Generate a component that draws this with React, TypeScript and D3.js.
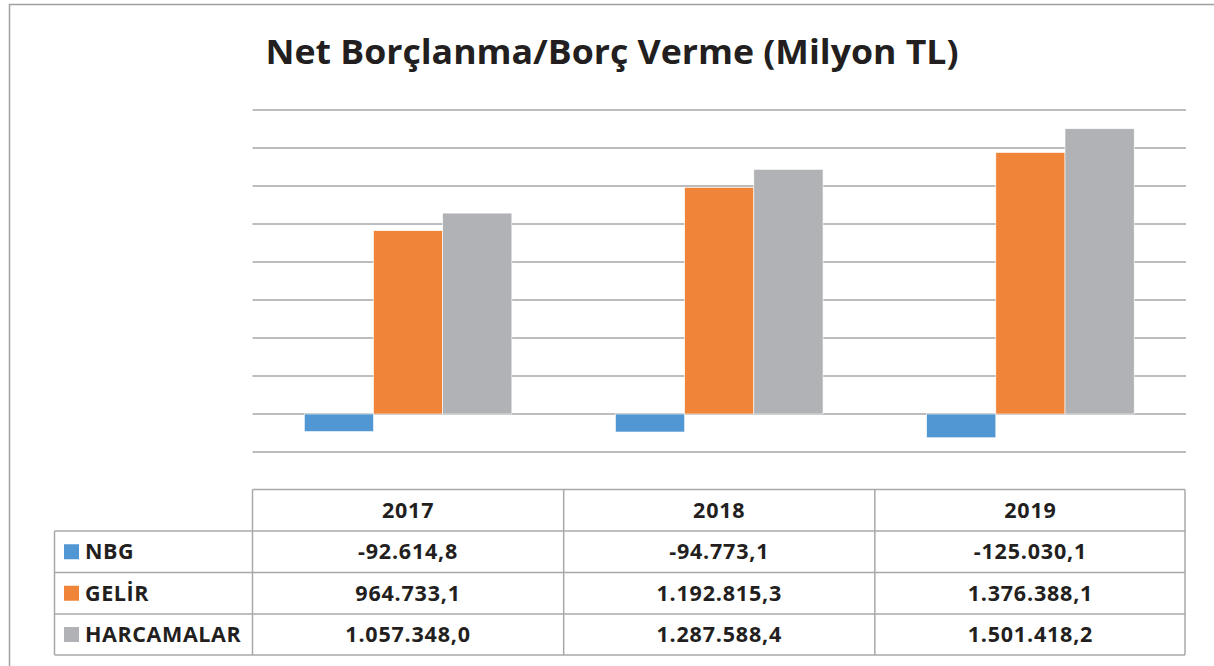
import React from "react";
import * as d3 from "d3";

const years = ["2017", "2018", "2019"];
const seriesNames = ["NBG", "GELİR", "HARCAMALAR"];
const nbg = [-92614.8, -94773.1, -125030.1];
const gelir = [964733.1, 1192815.3, 1376388.1];
const harcamalar = [1057348.0, 1287588.4, 1501418.2];
const tableLabels = [
  ["-92.614,8", "-94.773,1", "-125.030,1"],
  ["964.733,1", "1.192.815,3", "1.376.388,1"],
  ["1.057.348,0", "1.287.588,4", "1.501.418,2"],
];
const gridTicks = [-200000, 0, 200000, 400000, 600000, 800000, 1000000, 1200000, 1400000, 1600000];
const colors = ["#5097D3", "#F08439", "#B1B2B5"];

export default function App() {
  const W = 1214, H = 666;
  const plotLeft = 252.5, plotRight = 1186;
  const y = d3.scaleLinear().domain([-200000, 1600000]).range([452, 110]);
  const x0 = d3.scaleBand().domain(years).range([plotLeft, plotRight]).padding(0);
  const bw = x0.bandwidth();
  const x1 = d3.scaleBand().domain(seriesNames).range([bw * 0.1665, bw * 0.8335]).padding(0);
  const values = [nbg, gelir, harcamalar];
  const font = "'Open Sans', 'DejaVu Sans', sans-serif";
  const tableTop = 489.5;
  const rowYs = [tableTop, 531, 572.5, 614, 655];
  const legendLeft = 54.5;
  const lineColor = "#A8A8A8";
  const textColor = "#231F20";
  const fs = 21.5;
  const fw = 750;

  return (
    <svg width={W} height={H} style={{ position: "absolute", left: 0, top: 0 }} fontFamily={font}>
      <rect x={0} y={0} width={W} height={H} fill="#fff" />
      <rect x={9.5} y={4.5} width={W + 20} height={H + 20} fill="none" stroke="#A0A0A0" strokeWidth={1.5} />
      <text x={612} y={64} textAnchor="middle" fontSize={34.5} fontWeight={fw} fill={textColor} textLength={693} lengthAdjust="spacingAndGlyphs">
        Net Borçlanma/Borç Verme (Milyon TL)
      </text>
      {gridTicks.map((t) => (
        <line key={t} x1={plotLeft} x2={plotRight} y1={y(t)} y2={y(t)} stroke="#BDBDC0" strokeWidth={2} />
      ))}
      {years.map((yr, i) => (
        <g key={yr} transform={`translate(${x0(yr)},0)`}>
          {seriesNames.map((s, j) => {
            const v = values[j][i];
            const top = Math.min(y(v), y(0));
            const h = Math.abs(y(v) - y(0));
            return <rect key={s} x={x1(s)} y={top} width={x1.bandwidth()} height={h} fill={colors[j]} stroke="#fff" strokeWidth={0.6} />;
          })}
        </g>
      ))}
      <g stroke={lineColor} strokeWidth={1.5} fill="none">
        <line x1={plotLeft} x2={plotRight - 1} y1={tableTop} y2={tableTop} />
        {rowYs.slice(1).map((ry) => (
          <line key={ry} x1={legendLeft} x2={plotRight - 1} y1={ry} y2={ry} />
        ))}
        <line x1={legendLeft} x2={legendLeft} y1={rowYs[1]} y2={rowYs[4]} />
        {years.map((yr) => (
          <line key={yr} x1={x0(yr)} x2={x0(yr)} y1={tableTop} y2={rowYs[4]} />
        ))}
        <line x1={plotRight - 1} x2={plotRight - 1} y1={tableTop} y2={rowYs[4]} />
      </g>
      {years.map((yr) => (
        <text key={yr} x={(x0(yr) as number) + bw / 2} y={517.5} textAnchor="middle" fontSize={fs} fontWeight={fw} fill={textColor} letterSpacing={0.8}>
          {yr}
        </text>
      ))}
      {seriesNames.map((s, j) => {
        const cy = (rowYs[j + 1] + rowYs[j + 2]) / 2;
        return (
          <g key={s}>
            <rect x={64} y={cy - 7.5} width={15} height={15} fill={colors[j]} />
            <text x={85} y={cy + 7.5} fontSize={fs} fontWeight={fw} fill={textColor} letterSpacing={0.6}>
              {s}
            </text>
            {years.map((yr, i) => (
              <text key={yr} x={(x0(yr) as number) + bw / 2} y={cy + 7.5} textAnchor="middle" fontSize={fs} fontWeight={fw} fill={textColor} letterSpacing={0.8}>
                {tableLabels[j][i]}
              </text>
            ))}
          </g>
        );
      })}
    </svg>
  );
}
